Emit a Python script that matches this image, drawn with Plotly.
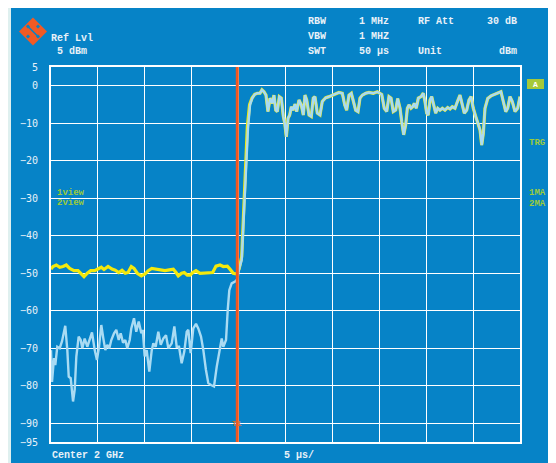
import plotly.graph_objects as go

# ---------------- data ----------------
# sweep time in microseconds (0..50 us, 5 us/div), level in dBm
blue_left_t = [0.0, 0.11, 0.32, 0.46, 0.67, 0.93, 1.17, 1.52, 1.74, 1.89, 2.10, 2.35, 2.53, 2.70,
               2.95, 3.17, 3.34, 3.59, 3.87, 4.13, 4.37, 4.66, 4.90, 5.12, 5.36, 5.58, 5.79, 6.00,
               6.22, 6.43, 6.72, 6.96, 7.22, 7.43, 7.68, 7.92, 8.13, 8.39, 8.56, 8.85, 9.09, 9.35,
               9.63, 9.78, 9.99, 10.20, 10.48, 10.74, 10.91, 11.16, 11.44, 11.70, 11.97, 12.26,
               12.51, 12.87, 13.15, 13.40, 13.65, 13.93, 14.21, 14.47, 14.64, 14.89, 15.17, 15.46,
               15.70, 15.99, 16.24, 16.52, 16.77, 17.06, 17.38, 17.67, 17.94, 18.20, 18.37, 18.66,
               18.84, 19.01, 19.26, 19.62, 19.86, 20.07, 20.33, 20.58, 20.84, 21.00, 21.22, 21.46,
               21.72]
blue_left_db = [-70.5, -79.0, -72.6, -74.5, -69.6, -70.0, -68.2, -64.0, -70.5, -77.6, -78.0, -84.2,
                -81.0, -72.2, -66.9, -67.8, -70.0, -67.4, -69.6, -67.8, -65.8, -70.5, -73.1, -69.6,
                -63.8, -67.4, -70.5, -69.1, -70.0, -67.8, -66.0, -65.1, -67.8, -66.0, -68.5, -67.8,
                -70.0, -67.8, -64.7, -62.0, -65.6, -62.9, -66.0, -65.1, -72.2, -70.5, -76.2, -70.5,
                -68.7, -69.6, -65.6, -69.1, -67.4, -66.5, -70.0, -68.7, -64.2, -69.6, -69.6, -74.0,
                -70.9, -65.6, -65.1, -71.3, -64.7, -63.5, -64.7, -66.9, -70.5, -75.8, -79.3, -79.8,
                -80.2, -74.9, -70.5, -67.4, -69.6, -67.8, -59.8, -54.5, -52.7, -52.2, -51.6, -48.7,
                -46.5, -33.0, -19.0, -11.4, -5.1, -3.3, -2.3]

yellow_left_t = [0.0, 0.21, 0.57, 0.93, 1.28, 1.63, 1.99, 2.45, 2.88, 3.23, 3.52, 3.87, 4.23, 4.66,
                 5.01, 5.36, 5.65, 6.08, 6.50, 6.85, 7.22, 7.57, 7.92, 8.21, 8.56, 8.85, 9.20, 9.63,
                 10.02, 10.37, 10.74, 11.27, 11.70, 12.15, 12.61, 13.04, 13.33, 13.57, 13.93, 14.21,
                 14.53, 14.82, 15.11, 15.46, 15.88, 16.42, 16.95, 17.24, 17.59, 18.02, 18.37, 18.80,
                 19.08, 19.43, 19.80, 20.07, 20.33, 20.52, 20.74, 20.93, 21.17, 21.43, 21.72]
yellow_left_db = [-48.9, -48.2, -47.8, -48.4, -48.2, -47.8, -48.7, -49.3, -49.3, -50.2, -50.9, -50.0,
                  -49.3, -49.3, -48.9, -48.4, -49.0, -48.2, -48.9, -49.2, -49.8, -49.2, -50.0, -49.8,
                  -48.2, -48.7, -50.0, -50.7, -50.2, -49.3, -48.7, -48.9, -49.0, -49.3, -49.1, -48.9,
                  -49.8, -50.7, -50.0, -49.8, -50.5, -50.5, -49.8, -49.3, -50.0, -50.0, -50.0, -49.8,
                  -48.1, -47.8, -48.2, -48.1, -48.9, -50.0, -50.2, -48.7, -45.6, -34.0, -21.0, -11.0,
                  -5.0, -3.3, -2.3]

# after the trigger both traces show the same burst
burst_t = [21.99, 22.28, 22.49, 22.71, 22.92, 23.13, 23.35, 23.59, 23.77, 23.96, 24.13, 24.34, 24.55,
           24.77, 24.92, 25.09, 25.27, 25.45, 25.62, 25.80, 26.01, 26.19, 26.44, 26.68, 26.90, 27.08,
           27.26, 27.51, 27.75, 27.96, 28.14, 28.39, 28.68, 28.92, 29.29, 29.64, 30.17, 30.70, 31.06,
           31.31, 31.52, 31.77, 32.02, 32.23, 32.48, 32.73, 32.94, 33.19, 33.55, 33.90, 34.36, 34.79,
           35.26, 35.53, 35.79, 36.03, 36.25, 36.49, 36.75, 36.96, 37.21, 37.39, 37.60, 37.81, 37.99,
           38.17, 38.38, 38.56, 38.73, 38.94, 39.16, 39.45, 39.69, 39.87, 40.05, 40.22, 40.41, 40.59,
           40.80, 41.01, 41.23, 41.47, 41.72, 42.00, 42.29, 42.54, 42.78, 43.07, 43.36, 43.60, 43.85,
           44.06, 44.32, 44.56, 44.78, 45.02, 45.28, 45.49, 45.74, 45.92, 46.09, 46.27, 46.56, 46.91,
           47.26, 47.62, 47.97, 48.22, 48.48, 48.69, 48.93, 49.18, 49.47, 49.75, 50.0]
burst_db = [-2.0, -2.0, -1.1, -1.6, -2.5, -6.9, -3.3, -4.7, -2.5, -6.5, -6.9, -2.9, -3.3, -8.2, -10.0,
            -13.6, -8.7, -7.8, -5.6, -6.5, -4.9, -6.9, -3.8, -5.1, -7.8, -2.5, -3.8, -7.8, -8.2, -3.3,
            -2.9, -7.3, -7.8, -4.2, -3.2, -2.9, -2.3, -1.8, -2.0, -5.1, -6.5, -2.5, -2.0, -4.2, -6.5,
            -6.9, -3.3, -2.5, -2.0, -1.8, -2.0, -1.6, -2.3, -6.0, -6.9, -2.9, -3.3, -6.9, -6.5, -3.4,
            -6.0, -9.6, -13.1, -10.5, -6.0, -5.1, -6.0, -5.6, -4.7, -6.0, -3.3, -2.9, -2.0, -4.2, -7.3,
            -7.8, -3.8, -2.9, -5.6, -7.3, -6.0, -6.5, -6.0, -6.5, -5.8, -6.2, -5.6, -6.0, -4.0, -2.5,
            -5.1, -7.3, -6.5, -3.8, -2.9, -6.0, -8.2, -9.6, -11.8, -15.8, -12.7, -6.0, -3.4, -2.7, -2.3,
            -2.0, -1.6, -4.2, -6.9, -6.0, -2.9, -4.2, -6.9, -6.0, -2.9]

marker_t = 19.86          # T1 trigger marker (us)
y_ticks = [5, 0, -10, -20, -30, -40, -50, -60, -70, -80, -90, -95]
x_ticks = [0, 5, 10, 15, 20, 25, 30, 35, 40, 45, 50]

# ---------------- styling ----------------
# page has an 8px body margin; all screen coordinates below are window pixels
OFF = 8
W, H = 556 - OFF, 463 - OFF
L, R, T, B = 51 - OFF, 36, 67 - OFF, 21
PANEL = "#0683c7"
OUTER = "#dff0ef"
TXT = "#e8f1f8"
GREEN = "#9ccb3b"
MONO = "Liberation Mono"


def px(x):
    return (x - OFF - L) / (W - L - R)


def py(y):
    return (H - B - (y - OFF)) / (H - T - B)


fig = go.Figure()
fig.add_trace(go.Scatter(x=yellow_left_t + burst_t, y=yellow_left_db + burst_db, mode="lines",
                         line=dict(color="#f4e90c", width=3.2), hoverinfo="skip", showlegend=False))
fig.add_trace(go.Scatter(x=blue_left_t + burst_t, y=blue_left_db + burst_db, mode="lines",
                         line=dict(color="#a9dbf3", width=2.4), hoverinfo="skip", showlegend=False))
fig.add_trace(go.Scatter(x=[marker_t, marker_t], y=[y_ticks[-1], y_ticks[0]], mode="lines",
                         line=dict(color="#f2561f", width=3), hoverinfo="skip", showlegend=False))

shapes = [
    dict(type="rect", xref="paper", yref="paper", x0=px(11), x1=px(560), y0=py(470), y1=py(8),
         fillcolor=PANEL, line=dict(width=0), layer="below"),
]


def path(pts):
    return "M " + " L ".join(f"{px(a):.5f},{py(b):.5f}" for a, b in pts) + " Z"


# Rohde & Schwarz style logo
cx, cy, h = 33, 31.5, 14
shapes.append(dict(type="path", xref="paper", yref="paper",
                   path=path([(cx, cy - h), (cx + h, cy), (cx, cy + h), (cx - h, cy)]),
                   fillcolor="#f15a24", line=dict(width=0), layer="above"))
for (a, b) in [(-5, -5), (5, -5), (-5, 5), (5, 5)]:
    shapes.append(dict(type="path", xref="paper", yref="paper",
                       path=path([(cx + a, cy + b - 2), (cx + a + 2, cy + b), (cx + a, cy + b + 2),
                                  (cx + a - 2, cy + b)]),
                       fillcolor=PANEL, line=dict(width=0), layer="above"))
shapes.append(dict(type="line", xref="paper", yref="paper", x0=px(cx - 6), x1=px(cx + 6),
                   y0=py(cy - 6), y1=py(cy + 6), line=dict(color=PANEL, width=1.5)))
shapes.append(dict(type="rect", xref="paper", yref="paper", x0=px(527), x1=px(544), y0=py(89),
                   y1=py(79), fillcolor="#a6c93a", line=dict(width=0)))

ann = []


def txt(s, x, y, anchor="left", color=TXT, size=10, bold=True):
    ann.append(dict(text=f"<b>{s}</b>" if bold else s, x=px(x), y=py(y), xref="paper", yref="paper",
                    xanchor=anchor, yanchor="middle", showarrow=False,
                    font=dict(family=MONO, size=size, color=color)))


txt("Ref Lvl", 49, 38)
txt("5 dBm", 55, 52)
txt("RBW", 306, 22)
txt("1 MHz", 357, 22)
txt("RF Att", 416, 22)
txt("30 dB", 519, 22, "right")
txt("VBW", 306, 37)
txt("1 MHZ", 357, 37)
txt("SWT", 306, 52)
txt("50 µs", 357, 52)
txt("Unit", 416, 52)
txt("dBm", 519, 52, "right")
txt("Center 2 GHz", 50, 455)
txt("5 µs/", 282, 455)
txt("1view", 55, 193, color=GREEN, size=9)
txt("2view", 55, 203, color=GREEN, size=9)
txt("TRG", 527, 143, color=GREEN, size=9)
txt("1MA", 527, 193, color=GREEN, size=9)
txt("2MA", 527, 204, color=GREEN, size=9)
txt("A", 535.5, 84, "center", color="#ffffff", size=8)
ann.append(dict(text="<b>T1</b>", x=marker_t, y=y_ticks[-2], xref="x", yref="y", xanchor="center",
                yanchor="middle", showarrow=False, font=dict(family=MONO, size=8, color="#c9742c")))

fig.update_layout(
    width=W, height=H, margin=dict(l=L, r=R, t=T, b=B, pad=0),
    paper_bgcolor=OUTER, plot_bgcolor=PANEL, showlegend=False,
    shapes=shapes, annotations=ann,
    xaxis=dict(range=[0, 50], tickvals=x_ticks, showticklabels=False, showgrid=True,
               gridcolor="#ffffff", gridwidth=1, zeroline=False, showline=True, mirror=True,
               linecolor="#ffffff", linewidth=2, ticks="", fixedrange=True),
    yaxis=dict(range=[-95, 5], tickvals=y_ticks, ticktext=[str(v).replace("-", "−") for v in y_ticks],
               showgrid=True, gridcolor="#ffffff", gridwidth=1, zeroline=False, showline=True,
               mirror=True, linecolor="#ffffff", linewidth=2, ticks="outside", ticklen=9,
               tickcolor=PANEL, automargin=False, fixedrange=True,
               tickfont=dict(family="DejaVu Sans Mono", size=10, color=TXT)),
)

fig.write_html("out.html")
